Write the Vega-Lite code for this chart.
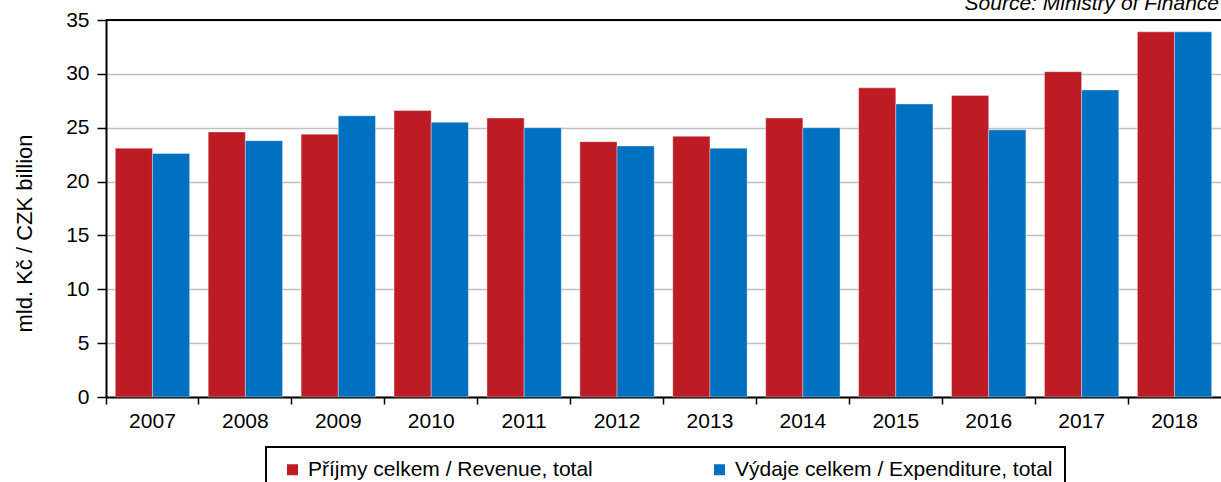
{
  "$schema": "https://vega.github.io/schema/vega-lite/v6.json",
  "width": 1115,
  "height": 377,
  "autosize": {"type": "none"},
  "padding": {"left": 106, "top": 20, "right": 0, "bottom": 85},
  "config": {
    "font": "Liberation Sans",
    "view": {"stroke": null},
    "legend": {"strokeWidth": 2}
  },
  "title": {
    "text": "Source: Ministry of Finance",
    "anchor": "end",
    "frame": "group",
    "fontStyle": "italic",
    "fontWeight": "normal",
    "fontSize": 21,
    "baseline": "alphabetic",
    "offset": 0,
    "dx": -2,
    "dy": 22,
    "color": "black"
  },
  "data": {
    "values": [
      {"year": "2007", "series": "Příjmy celkem / Revenue, total", "value": 23.1},
      {"year": "2007", "series": "Výdaje celkem / Expenditure, total", "value": 22.6},
      {"year": "2008", "series": "Příjmy celkem / Revenue, total", "value": 24.6},
      {"year": "2008", "series": "Výdaje celkem / Expenditure, total", "value": 23.8},
      {"year": "2009", "series": "Příjmy celkem / Revenue, total", "value": 24.4},
      {"year": "2009", "series": "Výdaje celkem / Expenditure, total", "value": 26.1},
      {"year": "2010", "series": "Příjmy celkem / Revenue, total", "value": 26.6},
      {"year": "2010", "series": "Výdaje celkem / Expenditure, total", "value": 25.5},
      {"year": "2011", "series": "Příjmy celkem / Revenue, total", "value": 25.9},
      {"year": "2011", "series": "Výdaje celkem / Expenditure, total", "value": 25.0},
      {"year": "2012", "series": "Příjmy celkem / Revenue, total", "value": 23.7},
      {"year": "2012", "series": "Výdaje celkem / Expenditure, total", "value": 23.3},
      {"year": "2013", "series": "Příjmy celkem / Revenue, total", "value": 24.2},
      {"year": "2013", "series": "Výdaje celkem / Expenditure, total", "value": 23.1},
      {"year": "2014", "series": "Příjmy celkem / Revenue, total", "value": 25.9},
      {"year": "2014", "series": "Výdaje celkem / Expenditure, total", "value": 25.0},
      {"year": "2015", "series": "Příjmy celkem / Revenue, total", "value": 28.7},
      {"year": "2015", "series": "Výdaje celkem / Expenditure, total", "value": 27.2},
      {"year": "2016", "series": "Příjmy celkem / Revenue, total", "value": 28.0},
      {"year": "2016", "series": "Výdaje celkem / Expenditure, total", "value": 24.8},
      {"year": "2017", "series": "Příjmy celkem / Revenue, total", "value": 30.2},
      {"year": "2017", "series": "Výdaje celkem / Expenditure, total", "value": 28.5},
      {"year": "2018", "series": "Příjmy celkem / Revenue, total", "value": 33.9},
      {"year": "2018", "series": "Výdaje celkem / Expenditure, total", "value": 33.9}
    ]
  },
  "layer": [
    {
      "mark": {"type": "bar", "stroke": "white", "strokeOpacity": 0.35, "strokeWidth": 1},
      "encoding": {
        "x": {
          "field": "year",
          "type": "nominal",
          "scale": {"paddingInner": 0, "paddingOuter": 0},
          "axis": {
            "title": null,
            "bandPosition": 0,
            "labelAngle": 0,
            "labelFontSize": 21,
            "labelColor": "black",
            "domainColor": "black",
            "domainWidth": 2,
            "tickColor": "black",
            "tickWidth": 1.5,
            "tickSize": 7,
            "labelPadding": 6,
            "grid": false
          }
        },
        "xOffset": {
          "field": "series",
          "type": "nominal",
          "scale": {
            "domain": ["Příjmy celkem / Revenue, total", "Výdaje celkem / Expenditure, total"],
            "paddingInner": 0,
            "paddingOuter": 0.25
          }
        },
        "y": {
          "field": "value",
          "type": "quantitative",
          "scale": {"domain": [0, 35], "nice": false},
          "axis": {
            "title": "mld. Kč / CZK billion",
            "values": [0, 5, 10, 15, 20, 25, 30, 35],
            "grid": true,
            "gridColor": "#C0C0C0",
            "gridWidth": 1.5,
            "domainColor": "black",
            "domainWidth": 2,
            "tickColor": "black",
            "tickWidth": 1.5,
            "tickSize": 9,
            "labelFontSize": 21,
            "labelColor": "black",
            "labelPadding": 8,
            "titleFontSize": 22,
            "titleFontWeight": "normal",
            "titleColor": "black",
            "titleBaseline": "alphabetic",
            "titleX": -75,
            "titleY": 213
          }
        },
        "color": {
          "field": "series",
          "type": "nominal",
          "scale": {
            "domain": ["Příjmy celkem / Revenue, total", "Výdaje celkem / Expenditure, total"],
            "range": ["#BE1C24", "#0070C0"]
          },
          "legend": {
            "orient": "none",
            "legendX": 160,
            "legendY": 427,
            "direction": "horizontal",
            "columns": 2,
            "title": null,
            "symbolType": "square",
            "symbolSize": 121,
            "symbolStrokeWidth": 0,
            "symbolOffset": 4,
            "labelFontSize": 21,
            "labelColor": "black",
            "labelOffset": 5,
            "labelLimit": 500,
            "columnPadding": 112,
            "padding": 12,
            "strokeColor": "black"
          }
        }
      }
    },
    {
      "mark": {"type": "rule", "color": "black", "strokeWidth": 2},
      "encoding": {"y": {"datum": 35}}
    }
  ]
}
